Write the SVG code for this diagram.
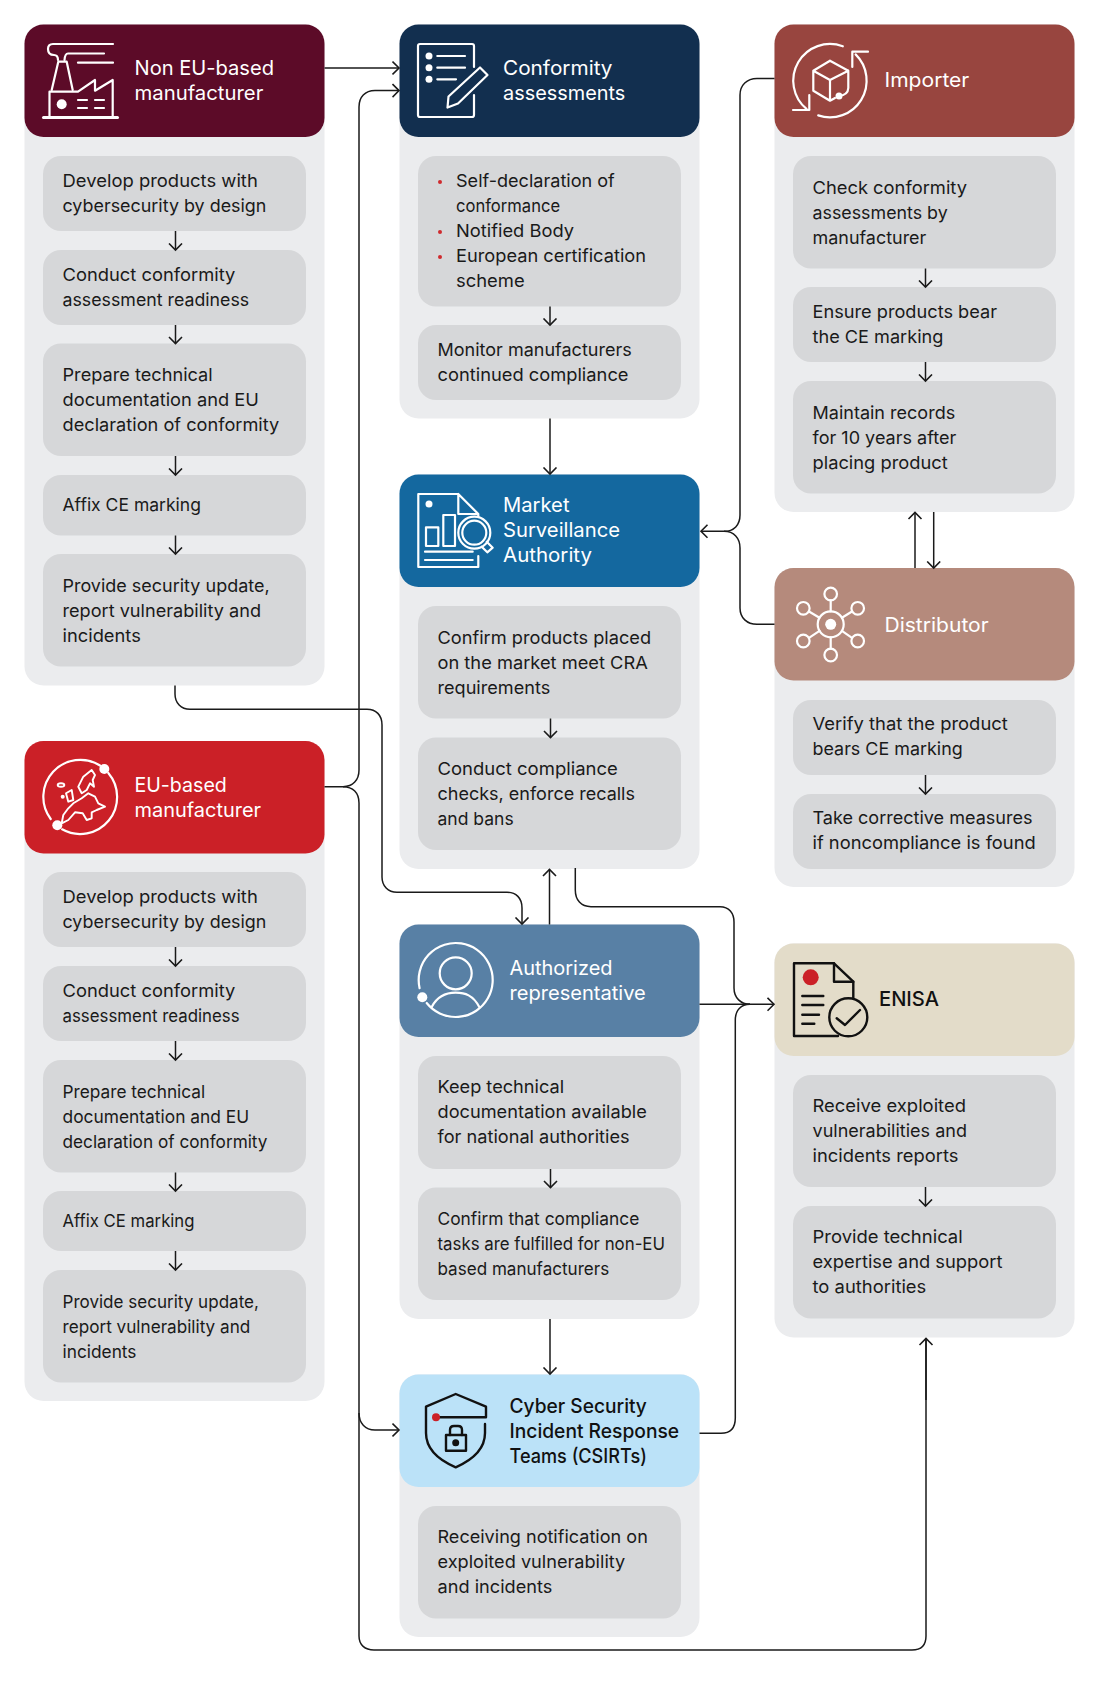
<svg xmlns="http://www.w3.org/2000/svg" width="1099" height="1681" viewBox="0 0 1099 1681">
<defs>
<style>
text{font-family:"Inter","Open Sans","Liberation Sans",sans-serif;}
.panel{fill:#ebecee}
.item{fill:#d6d7d9}
.t{font-size:17.8px;fill:#1a1a1a}
.h{font-size:20px;fill:#ffffff}
.hd{font-size:20px;fill:#111111;font-weight:500}
.w{fill:none;stroke:#ffffff;stroke-width:2.2;stroke-linejoin:round;stroke-linecap:round}
.wf{fill:#ffffff}
.k{fill:none;stroke:#111111;stroke-width:2.4;stroke-linejoin:round;stroke-linecap:round}
.c{fill:none;stroke:#1a1a1a;stroke-width:1.5}
.a{marker-end:url(#arr)}
.b{fill:#cf2a2e}
</style>
<marker id="arr" markerUnits="userSpaceOnUse" markerWidth="12" markerHeight="16" refX="7.5" refY="8" orient="auto"><path d="M1 1.5L7.5 8L1 14.5" fill="none" stroke="#1a1a1a" stroke-width="1.6"/></marker>
</defs>
<rect width="1099" height="1681" fill="#ffffff"/>

<g id="non-eu-manufacturer">
<rect class="panel" x="24.5" y="24.5" width="300" height="661" rx="19"/>
<rect x="24.5" y="24.5" width="300" height="112.5" rx="19" fill="#5c0b28"/>
<g class="w"><path d="M43.5 117.5H117.5" stroke-width="3"/><path d="M49.5 117V91.7H78L95 80V90.7L112.7 80V117"/><path d="M51.7 90L58.3 61.7H66.7L72.7 90"/><path d="M113 44H53Q48 44 48 49Q48 55 54 55Q58 55 58 60"/><path d="M104 53.5H68Q65 53.5 64.5 60"/><path d="M78 62.7H113"/><path d="M78 100H87M95 100H104M78 108H87M95 108H104"/></g>
<circle class="wf" cx="61.7" cy="104.3" r="5"/>
<text class="h" x="134.5" y="75" textLength="139.5" lengthAdjust="spacingAndGlyphs">Non EU-based</text><text class="h" x="134.5" y="100" textLength="128.8" lengthAdjust="spacingAndGlyphs">manufacturer</text>
<rect class="item" x="43" y="156" width="263" height="75" rx="18"/>
<text class="t" x="62.5" y="187" textLength="195.3" lengthAdjust="spacingAndGlyphs">Develop products with</text><text class="t" x="62.5" y="212" textLength="203.9" lengthAdjust="spacingAndGlyphs">cybersecurity by design</text>
<rect class="item" x="43" y="250" width="263" height="75" rx="18"/>
<text class="t" x="62.5" y="281" textLength="172.8" lengthAdjust="spacingAndGlyphs">Conduct conformity</text><text class="t" x="62.5" y="306" textLength="186.7" lengthAdjust="spacingAndGlyphs">assessment readiness</text>
<rect class="item" x="43" y="343.5" width="263" height="112.5" rx="18"/>
<text class="t" x="62.5" y="381" textLength="150.2" lengthAdjust="spacingAndGlyphs">Prepare technical</text><text class="t" x="62.5" y="406" textLength="196.4" lengthAdjust="spacingAndGlyphs">documentation and EU</text><text class="t" x="62.5" y="431" textLength="216.8" lengthAdjust="spacingAndGlyphs">declaration of conformity</text>
<rect class="item" x="43" y="475" width="263" height="60.5" rx="18"/>
<text class="t" x="62.5" y="511" textLength="138.4" lengthAdjust="spacingAndGlyphs">Affix CE marking</text>
<rect class="item" x="43" y="554" width="263" height="112.5" rx="18"/>
<text class="t" x="62.5" y="592" textLength="207.1" lengthAdjust="spacingAndGlyphs">Provide security update,</text><text class="t" x="62.5" y="617" textLength="198.5" lengthAdjust="spacingAndGlyphs">report vulnerability and</text><text class="t" x="62.5" y="642" textLength="78.3" lengthAdjust="spacingAndGlyphs">incidents</text>
</g>

<g id="eu-manufacturer">
<rect class="panel" x="24.5" y="741" width="300" height="660" rx="19"/>
<rect x="24.5" y="741" width="300" height="112.5" rx="19" fill="#cb2027"/>
<g class="w"><path d="M100 765.5A37 37 0 0 0 50.7 819"/><path d="M108.3 773A37 37 0 0 1 62.1 829.3"/><path stroke-width="1.9" d="M78.3 786.7L83.3 776.7L91.7 770L95 775L92.7 780L94 786.7L90 783.3L86.7 790L81.7 793.3Z"/><path stroke-width="1.9" d="M73.3 803.3L81.7 798.3L88.3 793.3L95 796.7L98.3 803.3L105 806.7L96.7 810L91.7 812.3L91.7 818.3L86.7 820L82.7 813.3L75 812.3L68.3 820L61.7 823.3L63.3 815L68.3 808.3Z"/><ellipse stroke-width="1.9" cx="61" cy="785" rx="3.3" ry="1.8"/><path stroke-width="1.9" d="M66 793.3L71.7 790L73.3 800L68.3 801.7Z"/></g>
<circle class="wf" cx="104.3" cy="769" r="5"/><circle class="wf" cx="57.3" cy="825.3" r="5"/><circle class="wf" cx="62.7" cy="796.7" r="2"/>
<text class="h" x="134.5" y="792" textLength="92.3" lengthAdjust="spacingAndGlyphs">EU-based</text><text class="h" x="134.5" y="817" textLength="126.6" lengthAdjust="spacingAndGlyphs">manufacturer</text>
<rect class="item" x="43" y="872" width="263" height="75" rx="18"/>
<text class="t" x="62.5" y="903" textLength="195.3" lengthAdjust="spacingAndGlyphs">Develop products with</text><text class="t" x="62.5" y="928" textLength="203.9" lengthAdjust="spacingAndGlyphs">cybersecurity by design</text>
<rect class="item" x="43" y="966" width="263" height="75" rx="18"/>
<text class="t" x="62.5" y="997" textLength="172.8" lengthAdjust="spacingAndGlyphs">Conduct conformity</text><text class="t" x="62.5" y="1022" textLength="177.1" lengthAdjust="spacingAndGlyphs">assessment readiness</text>
<rect class="item" x="43" y="1060" width="263" height="112.5" rx="18"/>
<text class="t" x="62.5" y="1098" textLength="142.7" lengthAdjust="spacingAndGlyphs">Prepare technical</text><text class="t" x="62.5" y="1123" textLength="186.7" lengthAdjust="spacingAndGlyphs">documentation and EU</text><text class="t" x="62.5" y="1148" textLength="205" lengthAdjust="spacingAndGlyphs">declaration of conformity</text>
<rect class="item" x="43" y="1191" width="263" height="60" rx="18"/>
<text class="t" x="62.5" y="1227" textLength="132" lengthAdjust="spacingAndGlyphs">Affix CE marking</text>
<rect class="item" x="43" y="1270" width="263" height="112.5" rx="18"/>
<text class="t" x="62.5" y="1308" textLength="196.4" lengthAdjust="spacingAndGlyphs">Provide security update,</text><text class="t" x="62.5" y="1333" textLength="187.8" lengthAdjust="spacingAndGlyphs">report vulnerability and</text><text class="t" x="62.5" y="1358" textLength="74" lengthAdjust="spacingAndGlyphs">incidents</text>
</g>

<g id="conformity-assessments">
<rect class="panel" x="399.5" y="24.5" width="300" height="394" rx="19"/>
<rect x="399.5" y="24.5" width="300" height="112.5" rx="19" fill="#122f4f"/>
<g class="w"><path d="M474 67V46Q474 44 472 44H420Q418 44 418 46V115Q418 117 420 117H472Q474 117 474 115V95"/><path d="M437.3 56H465M437.3 67.7H465M437.3 79.3H456"/><path d="M448.5 96.5L480 67.5L487.5 75L458 103.5L447.5 107.5Z"/></g>
<circle class="wf" cx="429" cy="56" r="3.5"/><circle class="wf" cx="429" cy="67.7" r="3.5"/><circle class="wf" cx="429" cy="79.3" r="3.5"/>
<text class="h" x="503" y="75" textLength="109.5" lengthAdjust="spacingAndGlyphs">Conformity</text><text class="h" x="503" y="100" textLength="122.3" lengthAdjust="spacingAndGlyphs">assessments</text>
<rect class="item" x="418" y="156" width="263" height="150.5" rx="18"/>
<circle class="b" cx="440" cy="182" r="2"/><circle class="b" cx="440" cy="232" r="2"/><circle class="b" cx="440" cy="257" r="2"/>
<text class="t" x="456" y="187" textLength="158.8" lengthAdjust="spacingAndGlyphs">Self-declaration of</text><text class="t" x="456" y="212" textLength="104.1" lengthAdjust="spacingAndGlyphs">conformance</text><text class="t" x="456" y="237" textLength="118" lengthAdjust="spacingAndGlyphs">Notified Body</text><text class="t" x="456" y="262" textLength="190" lengthAdjust="spacingAndGlyphs">European certification</text><text class="t" x="456" y="287" textLength="68.7" lengthAdjust="spacingAndGlyphs">scheme</text>
<rect class="item" x="418" y="325" width="263" height="75" rx="18"/>
<text class="t" x="437.5" y="356" textLength="194.2" lengthAdjust="spacingAndGlyphs">Monitor manufacturers</text><text class="t" x="437.5" y="381" textLength="191" lengthAdjust="spacingAndGlyphs">continued compliance</text>
</g>

<g id="market-surveillance-authority">
<rect class="panel" x="399.5" y="474.5" width="300" height="394.5" rx="19"/>
<rect x="399.5" y="474.5" width="300" height="112.5" rx="19" fill="#14689f"/>
<g class="w"><path d="M458.3 494H418.3V567H478.3V556M458.3 494L478.3 514V517M458.3 494V514H478.3"/><path d="M426 527.3H438.3V546H426ZM443.3 515H455V546H443.3ZM425 551.7H472.7M425 560H472.7"/><circle cx="474.3" cy="532.7" r="16"/><circle cx="474.3" cy="532.7" r="12"/><path d="M486.7 541.7L492.7 547.7L487.3 552.3L481.7 546.7"/></g>
<circle class="wf" cx="429" cy="504" r="3.5"/>
<text class="h" x="503" y="512" textLength="66.5" lengthAdjust="spacingAndGlyphs">Market</text><text class="h" x="503" y="537" textLength="117" lengthAdjust="spacingAndGlyphs">Surveillance</text><text class="h" x="503" y="562" textLength="89" lengthAdjust="spacingAndGlyphs">Authority</text>
<rect class="item" x="418" y="606" width="263" height="112.5" rx="18"/>
<text class="t" x="437.5" y="643.5" textLength="213.6" lengthAdjust="spacingAndGlyphs">Confirm products placed</text><text class="t" x="437.5" y="668.5" textLength="210.3" lengthAdjust="spacingAndGlyphs">on the market meet CRA</text><text class="t" x="437.5" y="693.5" textLength="112.7" lengthAdjust="spacingAndGlyphs">requirements</text>
<rect class="item" x="418" y="737.5" width="263" height="112.5" rx="18"/>
<text class="t" x="437.5" y="774.5" textLength="180.3" lengthAdjust="spacingAndGlyphs">Conduct compliance</text><text class="t" x="437.5" y="799.5" textLength="197.5" lengthAdjust="spacingAndGlyphs">checks, enforce recalls</text><text class="t" x="437.5" y="824.5" textLength="76.2" lengthAdjust="spacingAndGlyphs">and bans</text>
</g>

<g id="authorized-representative">
<rect class="panel" x="399.5" y="924.5" width="300" height="394.5" rx="19"/>
<rect x="399.5" y="924.5" width="300" height="112.5" rx="19" fill="#5880a5"/>
<g class="w"><path d="M419.6 988.2A37 37 0 1 1 426.7 1003"/><circle cx="455.7" cy="973.3" r="16"/><path d="M431.7 1007C438 995 447 992.7 455.7 992.7C465 992.7 473 995 479.3 1007"/></g>
<circle class="wf" cx="422.3" cy="997.3" r="5"/>
<text class="h" x="509.5" y="975" textLength="103" lengthAdjust="spacingAndGlyphs">Authorized</text><text class="h" x="509.5" y="1000" textLength="136.3" lengthAdjust="spacingAndGlyphs">representative</text>
<rect class="item" x="418" y="1056" width="263" height="113" rx="18"/>
<text class="t" x="437.5" y="1093" textLength="126.6" lengthAdjust="spacingAndGlyphs">Keep technical</text><text class="t" x="437.5" y="1118" textLength="209.3" lengthAdjust="spacingAndGlyphs">documentation available</text><text class="t" x="437.5" y="1143" textLength="192.1" lengthAdjust="spacingAndGlyphs">for national authorities</text>
<rect class="item" x="418" y="1187.5" width="263" height="112.5" rx="18"/>
<text class="t" x="437.5" y="1224.5" textLength="201.8" lengthAdjust="spacingAndGlyphs">Confirm that compliance</text><text class="t" x="437.5" y="1249.5" textLength="227.5" lengthAdjust="spacingAndGlyphs">tasks are fulfilled for non-EU</text><text class="t" x="437.5" y="1274.5" textLength="171.7" lengthAdjust="spacingAndGlyphs">based manufacturers</text>
</g>

<g id="csirts">
<rect class="panel" x="399.5" y="1374.5" width="300" height="262.5" rx="19"/>
<rect x="399.5" y="1374.5" width="300" height="112.5" rx="19" fill="#bbe2f8"/>
<g class="k"><path d="M436 1417.3H486V1406.7L455.7 1394L426 1406.7V1433C426 1450 441 1461 455.7 1467.3C470 1461 485 1450 485 1433V1424"/><rect x="446" y="1435" width="20" height="15.7"/><path d="M450 1435V1430Q450 1426 454 1426H458Q462 1426 462 1430V1435"/></g>
<circle cx="455.7" cy="1442.7" r="3.5" fill="#111111"/><circle cx="436" cy="1417.3" r="4" fill="#cb2027"/>
<text class="hd" x="509.5" y="1412.5" textLength="137.4" lengthAdjust="spacingAndGlyphs">Cyber Security</text><text class="hd" x="509.5" y="1437.5" textLength="169.6" lengthAdjust="spacingAndGlyphs">Incident Response</text><text class="hd" x="509.5" y="1462.5" textLength="137.4" lengthAdjust="spacingAndGlyphs">Teams (CSIRTs)</text>
<rect class="item" x="418" y="1506" width="263" height="112.5" rx="18"/>
<text class="t" x="437.5" y="1543" textLength="210.3" lengthAdjust="spacingAndGlyphs">Receiving notification on</text><text class="t" x="437.5" y="1568" textLength="187.8" lengthAdjust="spacingAndGlyphs">exploited vulnerability</text><text class="t" x="437.5" y="1593" textLength="114.8" lengthAdjust="spacingAndGlyphs">and incidents</text>
</g>

<g id="importer">
<rect class="panel" x="774.5" y="24.5" width="300" height="487.5" rx="19"/>
<rect x="774.5" y="24.5" width="300" height="112.5" rx="19" fill="#98453f"/>
<g class="w"><path d="M842.8 46.3A36.7 36.7 0 0 0 806.5 108.9"/><path d="M809.3 95V110H793"/><path d="M818.2 115.4A36.7 36.7 0 0 0 855.6 54.4"/><path d="M852.3 67V51.7H868"/><path d="M830 60.7L848.3 70.7V88Q848 95 839 96M835 98L830 100.7L813.3 90.7V70.7L830 60.7M813.3 70.7L830 80L848.3 70.7M830 80V100.7"/></g>
<circle class="wf" cx="839" cy="96" r="3.5"/>
<text class="h" x="884.5" y="87" textLength="84.8" lengthAdjust="spacingAndGlyphs">Importer</text>
<rect class="item" x="793" y="156" width="263" height="112.5" rx="18"/>
<text class="t" x="812.5" y="194" textLength="154.5" lengthAdjust="spacingAndGlyphs">Check conformity</text><text class="t" x="812.5" y="219" textLength="135.2" lengthAdjust="spacingAndGlyphs">assessments by</text><text class="t" x="812.5" y="244" textLength="113.8" lengthAdjust="spacingAndGlyphs">manufacturer</text>
<rect class="item" x="793" y="287" width="263" height="75" rx="18"/>
<text class="t" x="812.5" y="318" textLength="184.6" lengthAdjust="spacingAndGlyphs">Ensure products bear</text><text class="t" x="812.5" y="343" textLength="130.9" lengthAdjust="spacingAndGlyphs">the CE marking</text>
<rect class="item" x="793" y="381" width="263" height="112.5" rx="18"/>
<text class="t" x="812.5" y="419" textLength="142.7" lengthAdjust="spacingAndGlyphs">Maintain records</text><text class="t" x="812.5" y="444" textLength="143.8" lengthAdjust="spacingAndGlyphs">for 10 years after</text><text class="t" x="812.5" y="469" textLength="135.2" lengthAdjust="spacingAndGlyphs">placing product</text>
</g>

<g id="distributor">
<rect class="panel" x="774.5" y="568" width="300" height="319" rx="19"/>
<rect x="774.5" y="568" width="300" height="112.5" rx="19" fill="#b58a7c"/>
<g class="w"><circle cx="830.7" cy="624.3" r="13"/><circle cx="830.7" cy="594" r="6.3"/><circle cx="830.7" cy="655" r="6.3"/><circle cx="803.3" cy="608.3" r="6.3"/><circle cx="857.7" cy="608.3" r="6.3"/><circle cx="803.3" cy="641" r="6.3"/><circle cx="857.7" cy="641" r="6.3"/><path d="M830.7 600.3V611.3M830.7 637.3V648.7M809 611.5L819.5 617.8M852 611.5L841.9 617.8M809 637.8L819.5 630.8M852 637.8L841.9 630.8"/></g>
<circle class="wf" cx="830.7" cy="624.3" r="5.5"/>
<text class="h" x="884.5" y="632" textLength="104.1" lengthAdjust="spacingAndGlyphs">Distributor</text>
<rect class="item" x="793" y="700" width="263" height="75" rx="18"/>
<text class="t" x="812.5" y="730" textLength="195.3" lengthAdjust="spacingAndGlyphs">Verify that the product</text><text class="t" x="812.5" y="755" textLength="150.2" lengthAdjust="spacingAndGlyphs">bears CE marking</text>
<rect class="item" x="793" y="794" width="263" height="75" rx="18"/>
<text class="t" x="812.5" y="824" textLength="220" lengthAdjust="spacingAndGlyphs">Take corrective measures</text><text class="t" x="812.5" y="849" textLength="223.2" lengthAdjust="spacingAndGlyphs">if noncompliance is found</text>
</g>

<g id="enisa">
<rect class="panel" x="774.5" y="943.5" width="300" height="394" rx="19"/>
<rect x="774.5" y="943.5" width="300" height="112.5" rx="19" fill="#e3dcc9"/>
<g class="k"><path d="M838 1036H794V963.3H834L853.3 981.7V998"/><path d="M834 963.3V981.7H853.3"/><path d="M802.3 996H823.3M802.3 1005H823.3M802.3 1014.7H819M802.3 1023.7H814.3"/><circle cx="848.3" cy="1017.3" r="19"/><path d="M836.7 1018.3L845 1025L860 1010"/></g>
<circle cx="810.7" cy="977.3" r="8" fill="#cb2027"/>
<text class="hd" x="879" y="1006" textLength="60" lengthAdjust="spacingAndGlyphs">ENISA</text>
<rect class="item" x="793" y="1075" width="263" height="112" rx="18"/>
<text class="t" x="812.5" y="1112" textLength="153.5" lengthAdjust="spacingAndGlyphs">Receive exploited</text><text class="t" x="812.5" y="1137" textLength="154.5" lengthAdjust="spacingAndGlyphs">vulnerabilities and</text><text class="t" x="812.5" y="1162" textLength="146" lengthAdjust="spacingAndGlyphs">incidents reports</text>
<rect class="item" x="793" y="1206" width="263" height="112.5" rx="18"/>
<text class="t" x="812.5" y="1243" textLength="150.2" lengthAdjust="spacingAndGlyphs">Provide technical</text><text class="t" x="812.5" y="1268" textLength="190" lengthAdjust="spacingAndGlyphs">expertise and support</text><text class="t" x="812.5" y="1293" textLength="113.8" lengthAdjust="spacingAndGlyphs">to authorities</text>
</g>

<g id="connectors">
<path class="c a" d="M324.5 68H399"/>
<path class="c a" d="M324.5 786.7H343C353 786.7 359 780 359 770V107C359 97 365 90.6 375 90.6H399"/>
<path class="c" d="M343 786.7C353 786.7 359 793 359 803V1636C359 1645 365 1650 374 1650H912C921 1650 926 1645 926 1636V1338.5"/>
<path class="c a" d="M926 1400V1338.5"/>
<path class="c a" d="M359 1413C359 1423 365 1430 375 1430H399"/>
<path class="c a" d="M175 685.5V694C175 703 181 709.3 190 709.3H367C376 709.3 382 715 382 725V877C382 886 388 892.3 397 892.3H507C516 892.3 522 898 522 908V924"/>
<path class="c a" d="M549.5 924.5V869.5"/>
<path class="c" d="M575.3 868V890C575.3 900 581 906.7 591 906.7H720C729 906.7 734 913 734 922V988C734 998 741 1004.3 750 1004.3"/>
<path class="c a" d="M699.5 1004.3H774"/>
<path class="c" d="M699.5 1433.3H721C730 1433.3 735.3 1428 735.3 1418V1020C735.3 1010 741 1004.3 750 1004.3"/>
<path class="c a" d="M550 418.5V474"/>
<path class="c a" d="M550 1319V1374"/>
<path class="c" d="M774.5 78.5H757C747 78.5 740 85 740 95V515C740 525 734 531.3 724 531.3"/>
<path class="c a" d="M774.5 624.3H757C747 624.3 740 618 740 608V548C740 538 734 531.3 724 531.3H701"/>
<path class="c a" d="M915 568V512.5"/>
<path class="c a" d="M933.7 512V568"/>
<path class="c a" d="M175.5 231V250"/>
<path class="c a" d="M175.5 325V343.5"/>
<path class="c a" d="M175.5 456V475"/>
<path class="c a" d="M175.5 535.5V554"/>
<path class="c a" d="M175.5 947V966"/>
<path class="c a" d="M175.5 1041V1060"/>
<path class="c a" d="M175.5 1172.5V1191"/>
<path class="c a" d="M175.5 1251V1270"/>
<path class="c a" d="M550 306.5V325"/>
<path class="c a" d="M550.5 718.5V737.5"/>
<path class="c a" d="M550.5 1169V1187.5"/>
<path class="c a" d="M925.5 268.5V287"/>
<path class="c a" d="M925.5 362V381"/>
<path class="c a" d="M925.5 775V794"/>
<path class="c a" d="M925.5 1187V1206"/>
</g>
</svg>
